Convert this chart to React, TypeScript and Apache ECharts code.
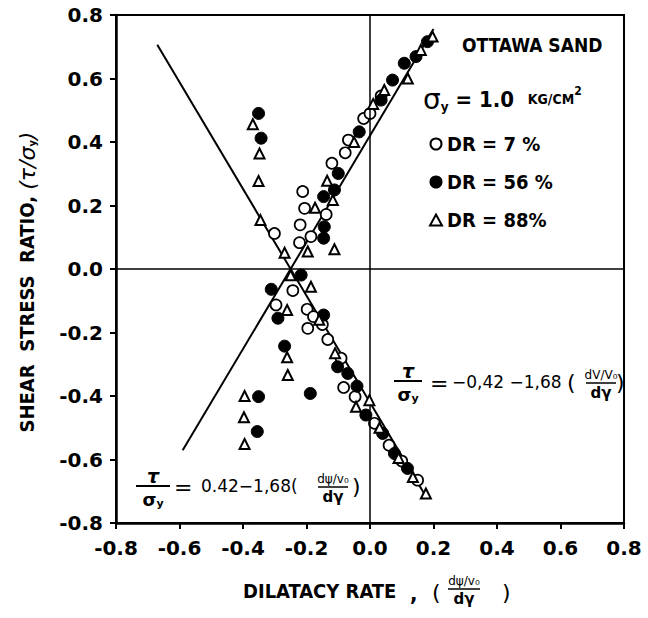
import React, { useEffect, useRef } from "react";
import * as echarts from "echarts";

// ---- data ----
const axisMin = -0.8;
const axisMax = 0.8;
const axisStep = 0.2;

const seriesNames = ["DR = 7 %", "DR = 56 %", "DR = 88%"];

const dr7Points: number[][] = [
  [-0.301, 0.112], [-0.212, 0.244], [-0.206, 0.191], [-0.22, 0.139], [-0.222, 0.083],
  [-0.186, 0.102], [-0.138, 0.172], [-0.12, 0.333], [-0.078, 0.366], [-0.068, 0.406],
  [-0.02, 0.474], [0.0, 0.49], [0.035, 0.545], [-0.243, -0.068], [-0.296, -0.113],
  [-0.198, -0.127], [-0.178, -0.15], [-0.196, -0.187], [-0.15, -0.175], [-0.133, -0.222],
  [-0.091, -0.281], [-0.083, -0.373], [-0.047, -0.402], [0.014, -0.486], [0.06, -0.555],
  [0.1, -0.605], [0.15, -0.665],
];

const dr56Points: number[][] = [
  [-0.351, 0.49], [-0.343, 0.412], [-0.311, -0.064], [-0.217, -0.019], [-0.29, -0.155],
  [-0.269, -0.243], [-0.188, -0.392], [-0.351, -0.402], [-0.355, -0.512], [-0.146, 0.097],
  [-0.144, 0.133], [-0.146, 0.228], [-0.112, 0.249], [-0.1, 0.301], [-0.034, 0.432],
  [0.035, 0.532], [0.071, 0.595], [0.108, 0.648], [0.145, 0.669], [0.181, 0.716],
  [-0.146, -0.145], [-0.102, -0.308], [-0.07, -0.329], [-0.041, -0.369], [-0.013, -0.46],
  [0.04, -0.518], [0.077, -0.581], [0.118, -0.628],
];

const dr88Points: number[][] = [
  [-0.369, 0.456], [-0.348, 0.364], [-0.351, 0.277], [-0.345, 0.154], [-0.269, 0.051],
  [-0.196, 0.055], [-0.173, 0.193], [-0.135, 0.278], [-0.117, 0.217], [-0.112, 0.062],
  [-0.05, 0.4], [0.01, 0.52], [0.045, 0.564], [0.119, 0.6], [0.16, 0.69], [0.197, 0.732],
  [-0.25, -0.02], [-0.186, -0.056], [-0.261, -0.129], [-0.261, -0.278], [-0.259, -0.334],
  [-0.395, -0.4], [-0.397, -0.467], [-0.395, -0.551], [-0.16, -0.16], [-0.11, -0.265],
  [-0.044, -0.434], [-0.002, -0.413], [0.03, -0.5], [0.09, -0.595], [0.135, -0.655],
  [0.176, -0.707],
];

// fitted lines (end points)
const fitNegative: number[][] = [[-0.67, 0.706], [0.17, -0.706]];
const fitPositive: number[][] = [[-0.59, -0.571], [0.2, 0.756]];

// ---- styling ----
const COND = '"DejaVu Sans Condensed", "DejaVu Sans", sans-serif';
const SANS = '"DejaVu Sans", sans-serif';

function txt(x: number, y: number, text: string, opts: any = {}) {
  return {
    type: "text",
    x,
    y,
    silent: true,
    style: {
      text,
      fill: "#000",
      fontFamily: opts.family || SANS,
      fontSize: opts.size || 16,
      fontWeight: opts.weight || "normal",
      fontStyle: opts.style || "normal",
      align: opts.align || "left",
      verticalAlign: opts.va || "middle",
      rich: opts.rich,
    },
    rotation: opts.rotation || 0,
  };
}

function hline(x1: number, x2: number, y: number, w = 1.5) {
  return {
    type: "line",
    silent: true,
    shape: { x1, y1: y, x2, y2: y },
    style: { stroke: "#000", lineWidth: w },
  };
}

const sigmaRich = {
  g: { fontFamily: SANS, fontSize: 18, fontWeight: "bold", fill: "#000" },
  sub: { fontFamily: SANS, fontSize: 11, fontWeight: "bold", fill: "#000", verticalAlign: "bottom", padding: [8, 0, 0, 0] },
};

function tauOverSigma(cx: number, barY: number, width: number) {
  return [
    txt(cx, barY - 10, "τ", { size: 19, align: "center", family: SANS, weight: "bold", style: "italic" }),
    hline(cx - width / 2, cx + width / 2, barY, 2),
    txt(cx, barY + 13, "{g|σ}{sub|y}", { align: "center", rich: sigmaRich }),
  ];
}

function dFrac(cx: number, barY: number, width: number, top: string) {
  return [
    txt(cx, barY - 8, top, { size: 12, align: "center" }),
    hline(cx - width / 2, cx + width / 2, barY, 1.5),
    txt(cx, barY + 10, "dγ", { size: 15, align: "center", weight: "bold" }),
  ];
}

export default function App() {
  const ref = useRef<HTMLDivElement>(null);

  useEffect(() => {
    if (!ref.current) return;
    const chart = echarts.init(ref.current, undefined, { renderer: "svg" });

    const axisCommon = {
      type: "value",
      min: axisMin,
      max: axisMax,
      interval: axisStep,
      axisLine: { show: true, onZero: false, lineStyle: { color: "#000", width: 2.5 } },
      axisTick: { show: true, inside: false, length: 6, lineStyle: { color: "#000", width: 2 } },
      splitLine: { show: false },
      axisLabel: {
        color: "#000",
        fontFamily: SANS,
        fontSize: 20,
        fontWeight: "bold",
        formatter: (v: number) => v.toFixed(1),
      },
    };

    const graphics: any[] = [
      // y axis title
      txt(27, 282, "{a|SHEAR  STRESS  RATIO, }{t|(τ/σ}{s|y}{t|)}", {
        align: "center",
        rotation: Math.PI / 2,
        rich: {
          a: { fontFamily: COND, fontSize: 20, fontWeight: "bold", fill: "#000" },
          t: { fontFamily: SANS, fontSize: 22, fontStyle: "italic", fill: "#000" },
          s: { fontFamily: COND, fontSize: 11, fontWeight: "bold", fill: "#000", verticalAlign: "bottom" },
        },
      }),
      // x axis title
      txt(243, 591, "DILATACY RATE", { family: COND, size: 20, weight: "bold" }),
      txt(410, 593, ",", { family: COND, size: 22, weight: "bold" }),
      txt(432, 592, "(", { size: 22 }),
      ...dFrac(464, 589, 32, "dψ/v₀"),
      txt(502, 592, ")", { size: 22 }),
      // legend header
      txt(462, 45, "OTTAWA SAND", { family: COND, size: 19, weight: "bold" }),
      txt(423, 99, "{s|σ}{y|y}{e| = 1.0  }{k|KG/CM}{p|2}", {
        rich: {
          s: { fontFamily: SANS, fontSize: 28, fill: "#000" },
          y: { fontFamily: SANS, fontSize: 12, fontWeight: "bold", fill: "#000", verticalAlign: "bottom" },
          e: { fontFamily: COND, fontSize: 22, fontWeight: "bold", fill: "#000" },
          k: { fontFamily: COND, fontSize: 14, fontWeight: "bold", fill: "#000" },
          p: { fontFamily: COND, fontSize: 12, fontWeight: "bold", fill: "#000", verticalAlign: "top" },
        },
      }),
      // lower-left equation
      ...tauOverSigma(153, 486, 34),
      txt(174, 487, "=", { size: 22 }),
      txt(201, 486, "0.42−1,68(", { size: 17 }),
      ...dFrac(333, 487, 30, "dψ/v₀"),
      txt(352, 486, ")", { size: 22 }),
      // right equation
      ...tauOverSigma(408, 381, 28),
      txt(430, 383, "=", { size: 22 }),
      txt(452, 382, "−0,42 −1,68", { size: 17 }),
      txt(567, 382, "(", { size: 22 }),
      ...dFrac(601, 383, 30, "dV/V₀"),
      txt(616, 382, ")", { size: 22 }),
    ];

    chart.setOption({
      animation: false,
      backgroundColor: "#fff",
      grid: {
        left: 116,
        right: 24,
        top: 15,
        bottom: 95,
        show: true,
        borderColor: "#000",
        borderWidth: 2,
        backgroundColor: "transparent",
      },
      xAxis: { ...axisCommon, axisLabel: { ...axisCommon.axisLabel, margin: 15 } },
      yAxis: { ...axisCommon, axisLabel: { ...axisCommon.axisLabel, margin: 13 } },
      legend: {
        data: seriesNames,
        orient: "vertical",
        left: 424,
        top: 128,
        itemGap: 16,
        itemWidth: 12,
        itemHeight: 11,
        textStyle: { fontFamily: COND, fontSize: 20, fontWeight: "bold", color: "#000", lineHeight: 22 },
        selectedMode: false,
      },
      graphic: graphics,
      series: [
        {
          type: "line",
          data: fitNegative,
          symbol: "none",
          silent: true,
          lineStyle: { color: "#000", width: 2 },
          markLine: {
            silent: true,
            symbol: "none",
            label: { show: false },
            lineStyle: { color: "#000", width: 1.5, type: "solid" },
            data: [{ xAxis: 0 }, { yAxis: 0 }],
          },
          z: 1,
        },
        {
          type: "line",
          data: fitPositive,
          symbol: "none",
          silent: true,
          lineStyle: { color: "#000", width: 2 },
          z: 1,
        },
        {
          name: seriesNames[0],
          type: "scatter",
          data: dr7Points,
          symbol: "circle",
          symbolSize: 11,
          itemStyle: { color: "#fff", borderColor: "#000", borderWidth: 1.7, opacity: 1 },
          z: 3,
        },
        {
          name: seriesNames[1],
          type: "scatter",
          data: dr56Points,
          symbol: "circle",
          symbolSize: 12,
          itemStyle: { color: "#000", borderColor: "#000", borderWidth: 1, opacity: 1 },
          z: 4,
        },
        {
          name: seriesNames[2],
          type: "scatter",
          data: dr88Points,
          symbol: "triangle",
          symbolSize: 10,
          itemStyle: { color: "#fff", borderColor: "#000", borderWidth: 2, opacity: 1 },
          z: 5,
        },
      ],
    });

    return () => chart.dispose();
  }, []);

  return (
    <div
      ref={ref}
      style={{ position: "fixed", left: 0, top: 0, width: 648, height: 618, background: "#fff" }}
    />
  );
}
